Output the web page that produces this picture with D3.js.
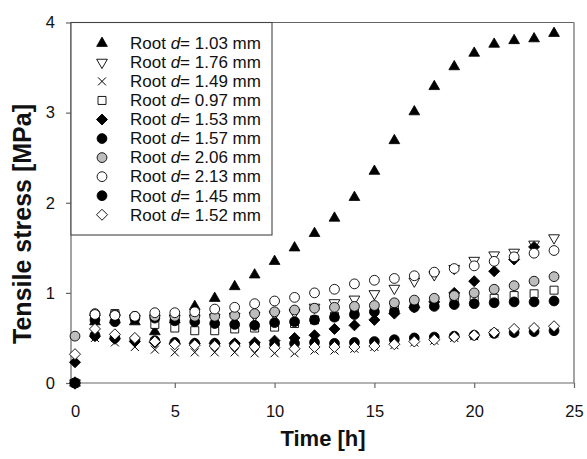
<!DOCTYPE html>
<html><head><meta charset="utf-8">
<script src="https://cdn.jsdelivr.net/npm/d3@7"></script>
<style>body{margin:0;background:#fff}svg{display:block}text{font-family:"Liberation Sans",Arial,sans-serif}</style>
</head><body><svg id="c" width="587" height="459"></svg>
<script>
const hours = d3.range(0, 25);
const xTicks = [0, 5, 10, 15, 20, 25];
const yTicks = [0, 1, 2, 3, 4];
const labels = ["1.03", "1.76", "1.49", "0.97", "1.53", "1.57", "2.06", "2.13", "1.45", "1.52"];
const s103 = [0, 0.68, 0.70, 0.68, 0.57, 0.70, 0.85, 0.94, 1.07, 1.20, 1.35, 1.50, 1.66, 1.83, 2.06, 2.35, 2.69, 3.01, 3.29, 3.51, 3.66, 3.76, 3.80, 3.82, 3.88];
const s176 = [0, 0.72, 0.72, 0.72, 0.72, 0.72, 0.72, 0.73, 0.74, 0.75, 0.76, 0.78, 0.84, 0.89, 0.93, 0.99, 1.05, 1.13, 1.20, 1.27, 1.36, 1.42, 1.45, 1.54, 1.61];
const s149 = [0, 0.50, 0.45, 0.40, 0.37, 0.34, 0.34, 0.34, 0.34, 0.33, 0.33, 0.33, 0.36, 0.36, 0.38, 0.40, 0.42, 0.45, 0.47, 0.50, 0.52, 0.55, 0.57, 0.59, 0.61];
const s097 = [0, 0.72, 0.77, 0.72, 0.65, 0.61, 0.58, 0.58, 0.60, 0.61, 0.62, 0.66, 0.70, 0.74, 0.78, 0.82, 0.85, 0.88, 0.90, 0.92, 0.93, 0.94, 0.97, 0.99, 1.03];
const s153 = [0.23, 0.52, 0.49, 0.46, 0.45, 0.44, 0.44, 0.44, 0.44, 0.45, 0.47, 0.50, 0.53, 0.60, 0.64, 0.70, 0.77, 0.84, 0.90, 1.00, 1.13, 1.24, 1.37, 1.51];
const s157 = [0, 0.70, 0.68, 0.72, 0.72, 0.69, 0.68, 0.66, 0.65, 0.64, 0.67, 0.68, 0.70, 0.73, 0.76, 0.79, 0.79, 0.84, 0.85, 0.87, 0.88, 0.89, 0.90, 0.90, 0.91];
const s206 = [0.52, 0.77, 0.76, 0.74, 0.74, 0.74, 0.74, 0.74, 0.75, 0.77, 0.79, 0.81, 0.83, 0.84, 0.85, 0.86, 0.89, 0.92, 0.94, 0.97, 1.00, 1.04, 1.08, 1.13, 1.18];
const s213 = [0, 0.76, 0.75, 0.74, 0.78, 0.78, 0.79, 0.82, 0.84, 0.88, 0.91, 0.95, 1.00, 1.04, 1.10, 1.14, 1.16, 1.19, 1.23, 1.27, 1.30, 1.35, 1.40, 1.44, 1.47];
const s145 = [0, 0.53, 0.50, 0.48, 0.47, 0.45, 0.44, 0.44, 0.43, 0.43, 0.43, 0.44, 0.45, 0.44, 0.45, 0.46, 0.48, 0.50, 0.51, 0.52, 0.53, 0.55, 0.56, 0.57, 0.58];
const s152 = [0.32, 0.60, 0.54, 0.50, 0.46, 0.43, 0.42, 0.41, 0.41, 0.40, 0.39, 0.38, 0.40, 0.40, 0.40, 0.41, 0.43, 0.46, 0.48, 0.51, 0.53, 0.56, 0.60, 0.61, 0.63];
const seriesValues = [s103, s176, s149, s097, s153, s157, s206, s213, s145, s152];
const shapes = ["triUp", "triDown", "cross", "square", "diamond", "circle", "circle", "circle", "circle", "diamondOpen"];
const fills = ["#000", "#fff", "none", "#fff", "#000", "#000", "#bdbdbd", "#fff", "#000", "#fff"];

const svg = d3.select("#c");
const L = 71, R = 574, T = 22.5, B = 383;
const x = d3.scaleLinear().domain([-0.2, 25]).range([L, R]);
const y = d3.scaleLinear().domain([0, 4]).range([B, T]);
const axisCol = "#666";

svg.append("line").attr("x1", L).attr("x2", R).attr("y1", T).attr("y2", T).attr("stroke", axisCol).attr("stroke-width", 1.2);
svg.append("line").attr("x1", R).attr("x2", R).attr("y1", T).attr("y2", B).attr("stroke", axisCol).attr("stroke-width", 1.2);

const gx = svg.append("g").attr("transform", `translate(0,${B})`)
  .call(d3.axisBottom(x).tickValues(xTicks).tickSize(5).tickPadding(17).tickFormat(d3.format("d")));
const gy = svg.append("g").attr("transform", `translate(${L},0)`)
  .call(d3.axisLeft(y).tickValues(yTicks).tickSize(5).tickPadding(11).tickFormat(d3.format("d")));
[gx, gy].forEach(g => {
  g.select(".domain").attr("stroke", axisCol).attr("stroke-width", 1.2);
  g.selectAll(".tick line").attr("stroke", axisCol).attr("stroke-width", 1.2);
  g.selectAll(".tick text").attr("font-size", 16.5).attr("fill", "#111").attr("font-family", "Liberation Sans, Arial, sans-serif");
});
gx.select(".domain").attr("d", `M${L},0H${R}`);
gy.select(".domain").attr("d", `M0,${B}V${T}`);

function drawMarker(g, shape, fill) {
  const st = "#000";
  if (shape === "triUp") g.append("path").attr("d", d3.symbol(d3.symbolTriangle, 50)()).attr("fill", fill).attr("stroke", st).attr("stroke-width", 0.8);
  else if (shape === "triDown") g.append("path").attr("d", d3.symbol(d3.symbolTriangle, 50)()).attr("transform", "rotate(180)").attr("fill", fill).attr("stroke", st).attr("stroke-width", 0.9);
  else if (shape === "cross") g.append("path").attr("d", "M-4,-4L4,4M-4,4L4,-4").attr("fill", "none").attr("stroke", st).attr("stroke-width", 1);
  else if (shape === "square") g.append("path").attr("d", "M-4,-4H4V4H-4Z").attr("fill", fill).attr("stroke", st).attr("stroke-width", 0.9);
  else if (shape === "diamond" || shape === "diamondOpen") g.append("path").attr("d", "M0,-5.5L5.5,0L0,5.5L-5.5,0Z").attr("fill", fill).attr("stroke", st).attr("stroke-width", 0.9);
  else g.append("circle").attr("r", 4.9).attr("fill", fill).attr("stroke", st).attr("stroke-width", 0.9);
}

seriesValues.forEach((vals, i) => {
  const g = svg.append("g");
  vals.forEach((v, j) => {
    const m = g.append("g").attr("transform", `translate(${x(hours[j])},${y(v)})`);
    drawMarker(m, shapes[i], fills[i]);
  });
});

const lg = svg.append("g");
lg.append("rect").attr("x", L).attr("y", T).attr("width", 201).attr("height", 212.5).attr("fill", "#fff").attr("stroke", "#444").attr("stroke-width", 1.1);
labels.forEach((lab, i) => {
  const cy = 43.3 + i * 19.05;
  const m = lg.append("g").attr("transform", `translate(102,${cy})`);
  drawMarker(m, shapes[i], fills[i]);
  const t = lg.append("text").attr("x", 130).attr("y", cy + 5.8).attr("font-size", 17).attr("fill", "#111");
  t.append("tspan").text("Root ");
  t.append("tspan").attr("font-style", "italic").text("d");
  t.append("tspan").text("= " + lab + " mm");
});

svg.append("text").attr("x", 323).attr("y", 446).attr("text-anchor", "middle").attr("font-size", 22).attr("font-weight", "bold").attr("fill", "#111").text("Time [h]");
svg.append("text").attr("transform", "translate(31,224) rotate(-90)").attr("text-anchor", "middle").attr("font-size", 25).attr("font-weight", "bold").attr("fill", "#111").text("Tensile stress [MPa]");
</script></body></html>
